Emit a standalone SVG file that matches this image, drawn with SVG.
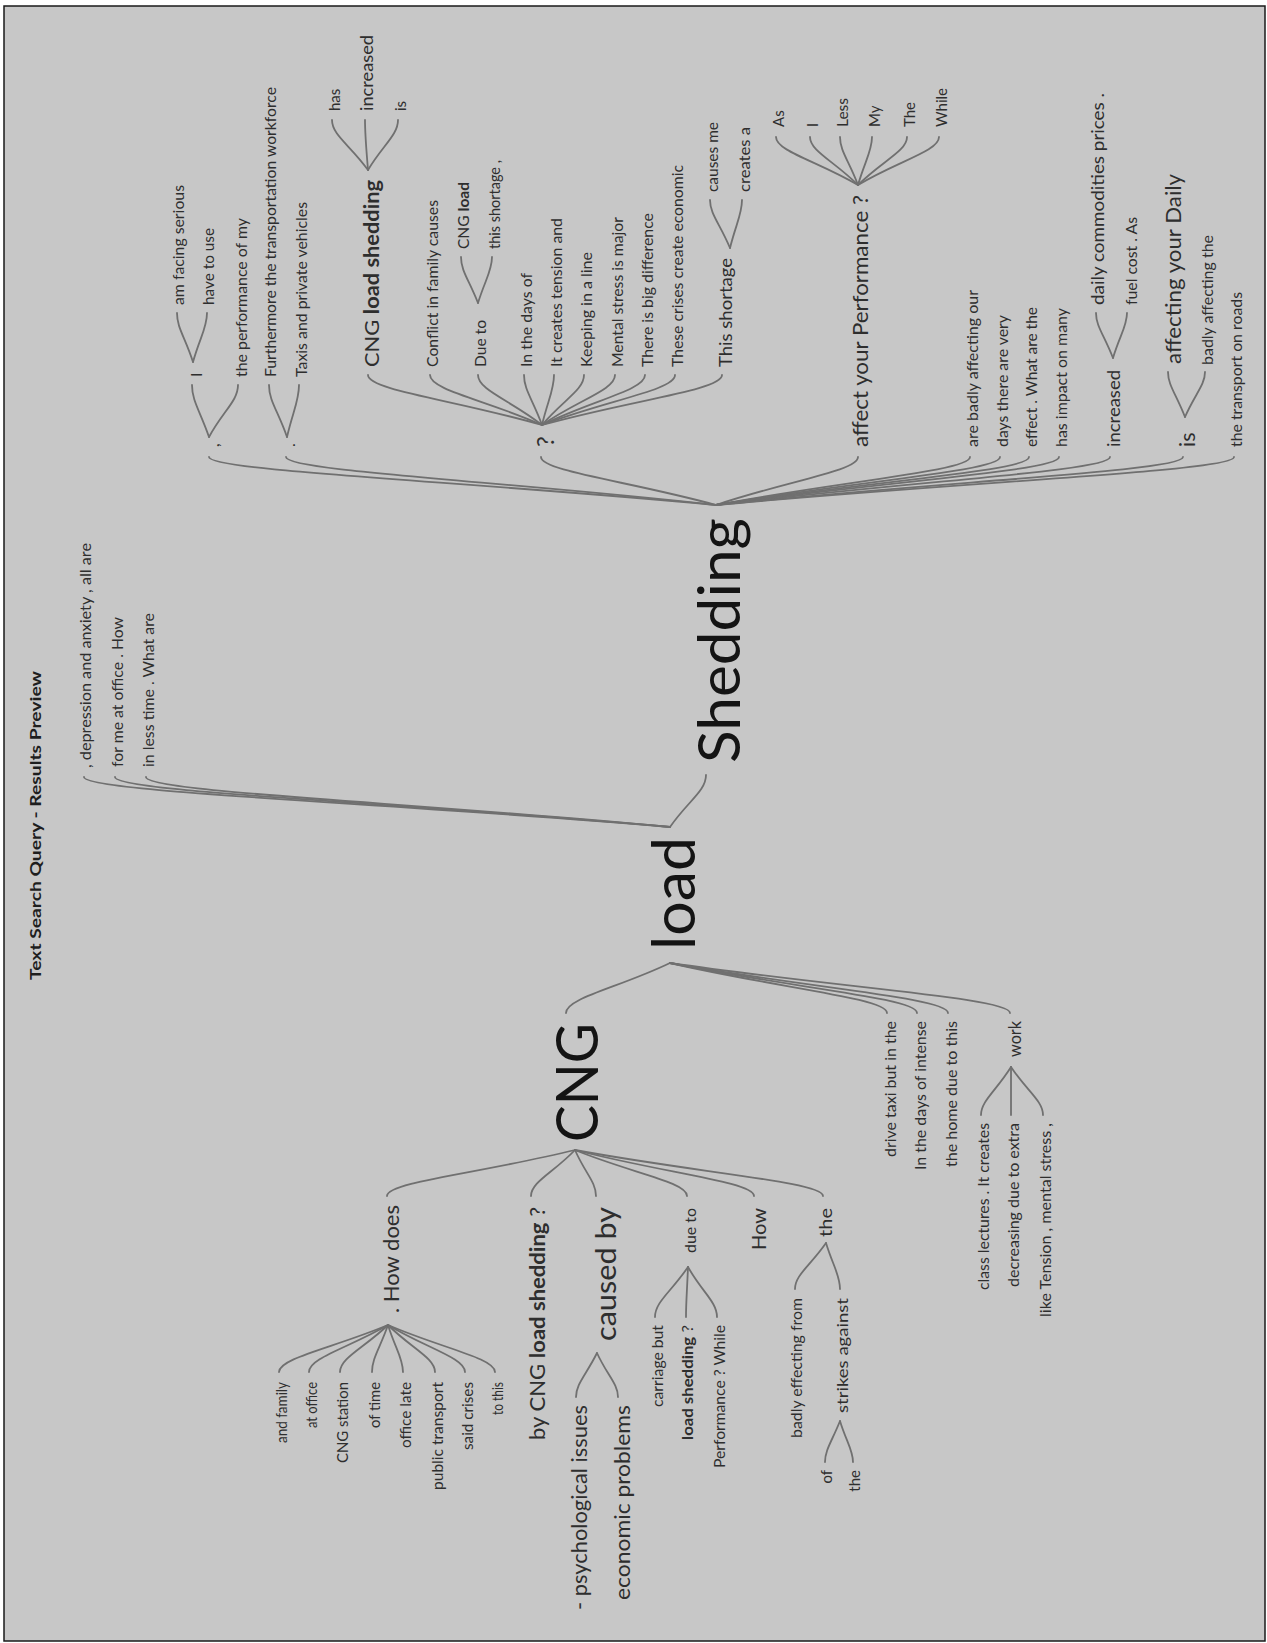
<svg xmlns="http://www.w3.org/2000/svg" width="1267" height="1643" viewBox="0 0 1267 1643">
<style>
text{font-family:Lato,"Liberation Sans",sans-serif;fill:#2e2e2e;font-size:15px}
.p{text-anchor:end}
.big{fill:#141414}
.b{font-weight:bold}
.ln{fill:none;stroke:#707070;stroke-width:1.8;stroke-linecap:round}
</style>
<rect x="0" y="0" width="1267" height="1643" fill="#ffffff"/>
<rect x="4" y="6" width="1261" height="1635" fill="#c7c7c7" stroke="#1a1a1a" stroke-width="1.5"/>
<text class="b" style="font-size:16px;fill:#1e1e1e" transform="translate(41,980) rotate(-90)" textLength="309" lengthAdjust="spacingAndGlyphs">Text Search Query - Results Preview</text>
<g id="connectors" class="ln">
<path d="M670 827C688 801 706 791 706 775"/>
<path d="M670 827C377 802 84 792 84 777"/>
<path d="M670 827C392 802 115 792 115 777"/>
<path d="M670 827C408 802 146 792 146 777"/>
<path d="M670 963C618 988 566 998 566 1013"/>
<path d="M670 963C778 988 887 998 887 1013"/>
<path d="M670 963C793 988 917 998 917 1013"/>
<path d="M670 963C809 988 948 998 948 1013"/>
<path d="M670 963C840 988 1010 998 1010 1013"/>
<path d="M575 1150C481 1173 387 1182 387 1196"/>
<path d="M575 1150C553 1173 531 1182 531 1196"/>
<path d="M575 1150C585 1173 596 1182 596 1196"/>
<path d="M575 1150C631 1173 687 1182 687 1196"/>
<path d="M575 1150C664 1173 754 1182 754 1196"/>
<path d="M575 1150C699 1173 823 1182 823 1196"/>
<path d="M388 1325C333 1348 279 1358 279 1372"/>
<path d="M388 1325C348 1348 309 1358 309 1372"/>
<path d="M388 1325C364 1348 340 1358 340 1372"/>
<path d="M388 1325C380 1348 372 1358 372 1372"/>
<path d="M388 1325C395 1348 403 1358 403 1372"/>
<path d="M388 1325C411 1348 435 1358 435 1372"/>
<path d="M388 1325C426 1348 465 1358 465 1372"/>
<path d="M388 1325C441 1348 495 1358 495 1372"/>
<path d="M597 1353C586 1375 576 1384 576 1397"/>
<path d="M597 1353C607 1375 618 1384 618 1397"/>
<path d="M688 1267C671 1292 655 1302 655 1317"/>
<path d="M688 1267C687 1292 686 1302 686 1317"/>
<path d="M688 1267C702 1292 717 1302 717 1317"/>
<path d="M826 1243C810 1266 795 1275 795 1289"/>
<path d="M826 1243C833 1266 840 1275 840 1289"/>
<path d="M840 1421C832 1441 825 1450 825 1462"/>
<path d="M840 1421C846 1441 853 1450 853 1462"/>
<path d="M1011 1067C996 1091 981 1101 981 1115"/>
<path d="M1011 1067C1011 1091 1011 1101 1011 1115"/>
<path d="M1011 1067C1027 1091 1043 1101 1043 1115"/>
<path d="M716 505C462 481 209 471 209 457"/>
<path d="M716 505C501 481 286 471 286 457"/>
<path d="M716 505C628 481 541 471 541 457"/>
<path d="M716 505C787 481 858 471 858 457"/>
<path d="M716 505C843 481 970 471 970 457"/>
<path d="M716 505C858 481 1000 471 1000 457"/>
<path d="M716 505C872 481 1029 471 1029 457"/>
<path d="M716 505C887 481 1059 471 1059 457"/>
<path d="M716 505C913 481 1110 471 1110 457"/>
<path d="M716 505C949 481 1183 471 1183 457"/>
<path d="M716 505C975 481 1234 471 1234 457"/>
<path d="M209 437C200 411 192 401 192 385"/>
<path d="M209 437C223 411 238 401 238 385"/>
<path d="M193 362C185 337 177 328 177 313"/>
<path d="M193 362C200 337 207 328 207 313"/>
<path d="M287 437C278 411 269 401 269 385"/>
<path d="M287 437C293 411 299 401 299 385"/>
<path d="M542 425C455 400 368 390 368 375"/>
<path d="M542 425C486 400 430 390 430 375"/>
<path d="M542 425C510 400 478 390 478 375"/>
<path d="M542 425C533 400 524 390 524 375"/>
<path d="M542 425C548 400 554 390 554 375"/>
<path d="M542 425C563 400 584 390 584 375"/>
<path d="M542 425C578 400 615 390 615 375"/>
<path d="M542 425C593 400 645 390 645 375"/>
<path d="M542 425C608 400 675 390 675 375"/>
<path d="M542 425C632 400 722 390 722 375"/>
<path d="M368 170C350 145 332 135 332 120"/>
<path d="M368 170C366 145 365 135 365 120"/>
<path d="M368 170C383 145 398 135 398 120"/>
<path d="M478 303C469 280 461 271 461 257"/>
<path d="M478 303C485 280 492 271 492 257"/>
<path d="M730 248C720 224 710 214 710 200"/>
<path d="M730 248C736 224 742 214 742 200"/>
<path d="M858 185C817 161 776 151 776 137"/>
<path d="M858 185C834 161 810 151 810 137"/>
<path d="M858 185C849 161 840 151 840 137"/>
<path d="M858 185C865 161 872 151 872 137"/>
<path d="M858 185C882 161 907 151 907 137"/>
<path d="M858 185C898 161 939 151 939 137"/>
<path d="M1113 358C1104 335 1096 326 1096 313"/>
<path d="M1113 358C1120 335 1127 326 1127 313"/>
<path d="M1185 417C1176 394 1168 385 1168 372"/>
<path d="M1185 417C1195 394 1205 385 1205 372"/>
</g>
<g id="n-load"><text class="big" style="font-size:60px" transform="translate(695,950) rotate(-90)" textLength="113" lengthAdjust="spacingAndGlyphs">load</text></g>
<g id="n-shedding"><text class="big" style="font-size:58px" transform="translate(740,763) rotate(-90)" textLength="245" lengthAdjust="spacingAndGlyphs">Shedding</text></g>
<g id="n-depression"><text transform="translate(91,768) rotate(-90)" textLength="225" lengthAdjust="spacingAndGlyphs">, depression and anxiety , all are</text></g>
<g id="n-forme"><text transform="translate(123,767) rotate(-90)" textLength="150" lengthAdjust="spacingAndGlyphs">for me at office . How</text></g>
<g id="n-inless"><text transform="translate(154,767) rotate(-90)" textLength="154" lengthAdjust="spacingAndGlyphs">in less time . What are</text></g>
<g id="n-comma"><text style="font-size:16px" transform="translate(219,447) rotate(-90)">,</text></g>
<g id="n-I1"><text style="font-size:16px" transform="translate(202,377) rotate(-90)">I</text></g>
<g id="n-amfacing"><text transform="translate(184,305) rotate(-90)" textLength="120" lengthAdjust="spacingAndGlyphs">am facing serious</text></g>
<g id="n-havetouse"><text transform="translate(214,305) rotate(-90)" textLength="77" lengthAdjust="spacingAndGlyphs">have to use</text></g>
<g id="n-theperf"><text transform="translate(247,377) rotate(-90)" textLength="159" lengthAdjust="spacingAndGlyphs">the performance of my</text></g>
<g id="n-period"><text style="font-size:16px" transform="translate(295,447) rotate(-90)">.</text></g>
<g id="n-furthermore"><text transform="translate(276,377) rotate(-90)" textLength="290" lengthAdjust="spacingAndGlyphs">Furthermore the transportation workforce</text></g>
<g id="n-taxis"><text transform="translate(307,377) rotate(-90)" textLength="175" lengthAdjust="spacingAndGlyphs">Taxis and private vehicles</text></g>
<g id="n-q"><text style="font-size:24px" transform="translate(554,447) rotate(-90)">?</text></g>
<g id="n-cngls"><text style="font-size:20px" transform="translate(379,367) rotate(-90)" textLength="187" lengthAdjust="spacingAndGlyphs">CNG <tspan class="b">load shedding</tspan></text></g>
<g id="n-has"><text transform="translate(340,111) rotate(-90)">has</text></g>
<g id="n-increased1"><text style="font-size:18px" transform="translate(373,111) rotate(-90)" textLength="76" lengthAdjust="spacingAndGlyphs">increased</text></g>
<g id="n-is1"><text transform="translate(406,111) rotate(-90)">is</text></g>
<g id="n-conflict"><text transform="translate(438,367) rotate(-90)" textLength="167" lengthAdjust="spacingAndGlyphs">Conflict in family causes</text></g>
<g id="n-dueto1"><text style="font-size:16px" transform="translate(486,367) rotate(-90)" textLength="47" lengthAdjust="spacingAndGlyphs">Due to</text></g>
<g id="n-cngload"><text transform="translate(469,249) rotate(-90)" textLength="67" lengthAdjust="spacingAndGlyphs">CNG <tspan class="b">load</tspan></text></g>
<g id="n-thisshortage1"><text transform="translate(500,249) rotate(-90)" textLength="89" lengthAdjust="spacingAndGlyphs">this shortage ,</text></g>
<g id="n-inthedays"><text transform="translate(532,367) rotate(-90)" textLength="94" lengthAdjust="spacingAndGlyphs">In the days of</text></g>
<g id="n-itcreates"><text transform="translate(562,367) rotate(-90)" textLength="149" lengthAdjust="spacingAndGlyphs">It creates tension and</text></g>
<g id="n-keeping"><text transform="translate(592,367) rotate(-90)" textLength="115" lengthAdjust="spacingAndGlyphs">Keeping in a line</text></g>
<g id="n-mental"><text transform="translate(623,367) rotate(-90)" textLength="150" lengthAdjust="spacingAndGlyphs">Mental stress is major</text></g>
<g id="n-thereis"><text transform="translate(653,367) rotate(-90)" textLength="154" lengthAdjust="spacingAndGlyphs">There is big difference</text></g>
<g id="n-these"><text transform="translate(683,367) rotate(-90)" textLength="202" lengthAdjust="spacingAndGlyphs">These crises create economic</text></g>
<g id="n-thisshortage2"><text style="font-size:18px" transform="translate(732,367) rotate(-90)" textLength="109" lengthAdjust="spacingAndGlyphs">This shortage</text></g>
<g id="n-causesme"><text transform="translate(718,192) rotate(-90)" textLength="70" lengthAdjust="spacingAndGlyphs">causes me</text></g>
<g id="n-createsa"><text transform="translate(750,192) rotate(-90)" textLength="65" lengthAdjust="spacingAndGlyphs">creates a</text></g>
<g id="n-affect"><text style="font-size:21.5px" transform="translate(868,447) rotate(-90)" textLength="252" lengthAdjust="spacingAndGlyphs">affect your Performance ?</text></g>
<g id="n-as"><text transform="translate(784,127) rotate(-90)">As</text></g>
<g id="n-I2"><text transform="translate(818,127) rotate(-90)">I</text></g>
<g id="n-less"><text transform="translate(848,127) rotate(-90)" textLength="29" lengthAdjust="spacingAndGlyphs">Less</text></g>
<g id="n-my"><text transform="translate(880,127) rotate(-90)">My</text></g>
<g id="n-the1"><text transform="translate(915,127) rotate(-90)" textLength="25" lengthAdjust="spacingAndGlyphs">The</text></g>
<g id="n-while"><text transform="translate(947,127) rotate(-90)" textLength="39" lengthAdjust="spacingAndGlyphs">While</text></g>
<g id="n-arebadly"><text transform="translate(978,447) rotate(-90)" textLength="157" lengthAdjust="spacingAndGlyphs">are badly affecting our</text></g>
<g id="n-days"><text transform="translate(1008,447) rotate(-90)" textLength="132" lengthAdjust="spacingAndGlyphs">days there are very</text></g>
<g id="n-effect"><text transform="translate(1037,447) rotate(-90)" textLength="140" lengthAdjust="spacingAndGlyphs">effect . What are the</text></g>
<g id="n-hasimpact"><text transform="translate(1067,447) rotate(-90)" textLength="139" lengthAdjust="spacingAndGlyphs">has impact on many</text></g>
<g id="n-increased2"><text style="font-size:18px" transform="translate(1120,447) rotate(-90)" textLength="77" lengthAdjust="spacingAndGlyphs">increased</text></g>
<g id="n-daily"><text style="font-size:18px" transform="translate(1104,305) rotate(-90)" textLength="212" lengthAdjust="spacingAndGlyphs">daily commodities prices .</text></g>
<g id="n-fuel"><text transform="translate(1137,305) rotate(-90)" textLength="88" lengthAdjust="spacingAndGlyphs">fuel cost . As</text></g>
<g id="n-is2"><text style="font-size:21.5px" transform="translate(1195,447) rotate(-90)">is</text></g>
<g id="n-affecting"><text style="font-size:21.5px" transform="translate(1181,364) rotate(-90)" textLength="190" lengthAdjust="spacingAndGlyphs">affecting your Daily</text></g>
<g id="n-badlyaff"><text transform="translate(1213,365) rotate(-90)" textLength="130" lengthAdjust="spacingAndGlyphs">badly affecting the</text></g>
<g id="n-transport"><text transform="translate(1242,447) rotate(-90)" textLength="155" lengthAdjust="spacingAndGlyphs">the transport on roads</text></g>
<g id="n-cng"><text class="big p" style="font-size:58px" transform="translate(598,1023) rotate(-90)" textLength="119" lengthAdjust="spacingAndGlyphs">CNG</text></g>
<g id="n-drive"><text class="p" transform="translate(896,1021) rotate(-90)" textLength="136" lengthAdjust="spacingAndGlyphs">drive taxi but in the</text></g>
<g id="n-intense"><text class="p" transform="translate(926,1021) rotate(-90)" textLength="149" lengthAdjust="spacingAndGlyphs">In the days of intense</text></g>
<g id="n-home"><text class="p" transform="translate(957,1021) rotate(-90)" textLength="146" lengthAdjust="spacingAndGlyphs">the home due to this</text></g>
<g id="n-work"><text class="p" style="font-size:17px" transform="translate(1021,1021) rotate(-90)" textLength="36" lengthAdjust="spacingAndGlyphs">work</text></g>
<g id="n-class"><text class="p" transform="translate(989,1123) rotate(-90)" textLength="167" lengthAdjust="spacingAndGlyphs">class lectures . It creates</text></g>
<g id="n-decreasing"><text class="p" transform="translate(1019,1123) rotate(-90)" textLength="164" lengthAdjust="spacingAndGlyphs">decreasing due to extra</text></g>
<g id="n-like"><text class="p" transform="translate(1051,1123) rotate(-90)" textLength="194" lengthAdjust="spacingAndGlyphs">like Tension , mental stress ,</text></g>
<g id="n-howdoes"><text class="p" style="font-size:21px" transform="translate(399,1205) rotate(-90)" textLength="108" lengthAdjust="spacingAndGlyphs">. How does</text></g>
<g id="n-andfamily"><text class="p" transform="translate(287,1382) rotate(-90)" textLength="61" lengthAdjust="spacingAndGlyphs">and family</text></g>
<g id="n-atoffice"><text class="p" transform="translate(317,1382) rotate(-90)" textLength="46" lengthAdjust="spacingAndGlyphs">at office</text></g>
<g id="n-cngstation"><text class="p" transform="translate(348,1382) rotate(-90)" textLength="81" lengthAdjust="spacingAndGlyphs">CNG station</text></g>
<g id="n-oftime"><text class="p" transform="translate(380,1382) rotate(-90)" textLength="46" lengthAdjust="spacingAndGlyphs">of time</text></g>
<g id="n-officelate"><text class="p" transform="translate(411,1382) rotate(-90)" textLength="66" lengthAdjust="spacingAndGlyphs">office late</text></g>
<g id="n-public"><text class="p" transform="translate(443,1382) rotate(-90)" textLength="108" lengthAdjust="spacingAndGlyphs">public transport</text></g>
<g id="n-said"><text class="p" transform="translate(473,1382) rotate(-90)" textLength="68" lengthAdjust="spacingAndGlyphs">said crises</text></g>
<g id="n-tothis"><text class="p" transform="translate(503,1382) rotate(-90)" textLength="33" lengthAdjust="spacingAndGlyphs">to this</text></g>
<g id="n-bycng"><text class="p" style="font-size:21px" transform="translate(545,1207) rotate(-90)" textLength="233" lengthAdjust="spacingAndGlyphs">by CNG <tspan class="b">load shedding</tspan> ?</text></g>
<g id="n-causedby"><text class="p" style="font-size:29px" transform="translate(616,1207) rotate(-90)" textLength="134" lengthAdjust="spacingAndGlyphs">caused by</text></g>
<g id="n-psych"><text class="p" style="font-size:21.5px" transform="translate(587,1405) rotate(-90)" textLength="205" lengthAdjust="spacingAndGlyphs">- psychological issues</text></g>
<g id="n-econ"><text class="p" style="font-size:21.5px" transform="translate(630,1405) rotate(-90)" textLength="195" lengthAdjust="spacingAndGlyphs">economic problems</text></g>
<g id="n-dueto2"><text class="p" style="font-size:16px" transform="translate(696,1208) rotate(-90)" textLength="45" lengthAdjust="spacingAndGlyphs">due to</text></g>
<g id="n-carriage"><text class="p" transform="translate(663,1325) rotate(-90)" textLength="82" lengthAdjust="spacingAndGlyphs">carriage but</text></g>
<g id="n-loadshed"><text class="p" transform="translate(693,1325) rotate(-90)" textLength="115" lengthAdjust="spacingAndGlyphs"><tspan class="b">load shedding</tspan> ?</text></g>
<g id="n-perfwhile"><text class="p" transform="translate(725,1325) rotate(-90)" textLength="143" lengthAdjust="spacingAndGlyphs">Performance ? While</text></g>
<g id="n-how"><text class="p" style="font-size:20px" transform="translate(766,1208) rotate(-90)" textLength="42" lengthAdjust="spacingAndGlyphs">How</text></g>
<g id="n-the2"><text class="p" style="font-size:18px" transform="translate(832,1208) rotate(-90)" textLength="29" lengthAdjust="spacingAndGlyphs">the</text></g>
<g id="n-badlyeff"><text class="p" transform="translate(802,1298) rotate(-90)" textLength="140" lengthAdjust="spacingAndGlyphs">badly effecting from</text></g>
<g id="n-strikes"><text class="p" style="font-size:16px" transform="translate(848,1298) rotate(-90)" textLength="115" lengthAdjust="spacingAndGlyphs">strikes against</text></g>
<g id="n-of"><text class="p" transform="translate(832,1470) rotate(-90)">of</text></g>
<g id="n-the3"><text class="p" transform="translate(860,1470) rotate(-90)">the</text></g>
</svg>
